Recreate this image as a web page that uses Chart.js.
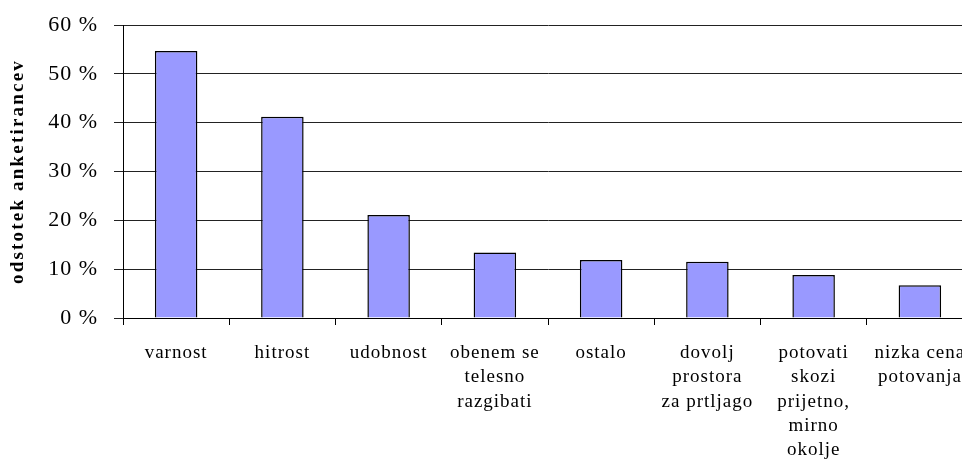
<!DOCTYPE html>
<html>
<head>
<meta charset="utf-8">
<script src="https://cdn.jsdelivr.net/npm/chart.js@4"></script>
<style>
  html, body { margin: 0; padding: 0; background: #fff; overflow: hidden; }
  #wrap { width: 990px; height: 475px; }
</style>
</head>
<body>
<div id="wrap"><canvas id="bar_chart" width="990" height="475"></canvas></div>
<script>
"use strict";

// categories (multi-line as in the original)
var categories = [
  "varnost",
  "hitrost",
  "udobnost",
  ["obenem se", "telesno", "razgibati"],
  "ostalo",
  ["dovolj", "prostora", "za prtljago"],
  ["potovati", "skozi", "prijetno,", "mirno", "okolje"],
  ["nizka cena", "potovanja"]
];
// share of respondents, %
var shares = [54.7, 41.2, 21.1, 13.4, 11.9, 11.5, 8.8, 6.7];
var yTicks = [0, 10, 20, 30, 40, 50, 60];

var serif = "'Liberation Serif', 'Times New Roman', serif";

/*-- wrap a scale draw method so its text gets letter spacing --*/
function spaced(scale, method, spacing) {
  if (scale['_sp_' + method]) return;
  var orig = scale[method];
  scale[method] = function () {
    var ctx = this.ctx;
    var prev = ctx.letterSpacing;
    ctx.letterSpacing = spacing;
    orig.apply(this, arguments);
    ctx.letterSpacing = prev;
  };
  scale['_sp_' + method] = true;
}

new Chart(document.getElementById("bar_chart").getContext("2d"), {
  type: 'bar',
  data: {
    labels: categories,
    datasets: [{
      data: shares,
      backgroundColor: '#9999ff',
      borderColor: '#000',
      borderWidth: 1.5,
      borderSkipped: 'bottom',
      barPercentage: 0.4,
      categoryPercentage: 1
    }]
  },
  options: {
    responsive: false,
    animation: false,
    layout: { padding: { top: 25, right: 17, left: 0, bottom: 0 } },
    plugins: { legend: { display: false }, tooltip: { enabled: false } },
    scales: {
      x: {
        offset: true,
        grid: { offset: true, drawOnChartArea: false, color: '#000', tickLength: 7 },
        border: { color: '#000', width: 1 },
        ticks: {
          color: '#000',
          font: { family: serif, size: 19, lineHeight: 1.28 },
          padding: 16,
          maxRotation: 0,
          autoSkip: false
        },
        afterFit: function (scale) {
          scale.height = 157;
          scale.paddingLeft = 0;
          scale.paddingRight = 0;
          spaced(scale, 'drawLabels', '1px');
        }
      },
      y: {
        min: 0,
        max: 60,
        afterBuildTicks: function (scale) {
          scale.ticks = yTicks.map(function (v) { return { value: v }; });
        },
        grid: { color: '#222', tickLength: 9 },
        border: { color: '#000', width: 1 },
        ticks: {
          color: '#000',
          font: { family: serif, size: 22 },
          padding: 16,
          callback: function (v) { return v + ' %'; }
        },
        title: {
          display: true,
          text: 'odstotek anketirancev',
          color: '#000',
          font: { family: serif, size: 19, weight: 'bold' },
          padding: { top: 7, bottom: 0 }
        },
        afterFit: function (scale) {
          scale.width = 123;
          scale.paddingTop = 0;
          scale.paddingBottom = 0;
          spaced(scale, 'drawLabels', '1px');
          spaced(scale, 'drawTitle', '2.2px');
        }
      }
    }
  }
});
</script>
</body>
</html>
